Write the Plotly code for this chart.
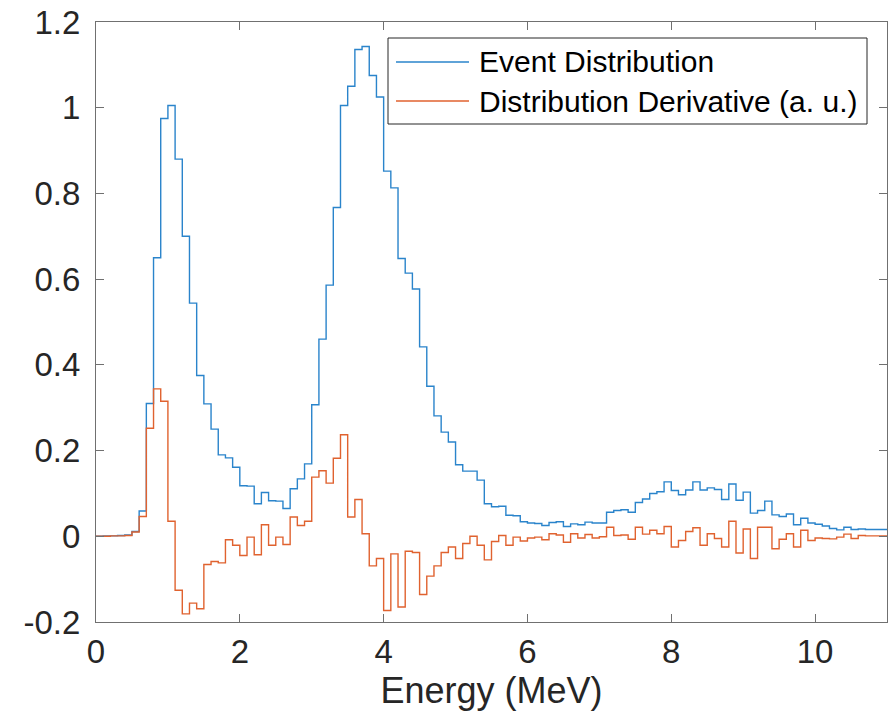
import plotly.graph_objects as go

bin_width = 0.1
n_bins = 110
energy_edges = [round(i * bin_width, 1) for i in range(n_bins + 1)]

event_distribution = [
    0.0, 0.001, 0.001, 0.002, 0.003, 0.011, 0.059, 0.31, 0.65, 0.975,
    1.005, 0.88, 0.70, 0.544, 0.375, 0.309, 0.25, 0.19, 0.183, 0.161,
    0.118, 0.117, 0.076, 0.102, 0.083, 0.082, 0.065, 0.111, 0.134, 0.169,
    0.307, 0.46, 0.586, 0.767, 1.005, 1.05, 1.136, 1.143, 1.075, 1.025,
    0.852, 0.813, 0.648, 0.614, 0.577, 0.442, 0.350, 0.281, 0.243, 0.220,
    0.167, 0.152, 0.152, 0.131, 0.076, 0.069, 0.070, 0.049, 0.048, 0.034,
    0.031, 0.030, 0.025, 0.032, 0.034, 0.023, 0.029, 0.027, 0.033, 0.031,
    0.031, 0.056, 0.060, 0.062, 0.056, 0.079, 0.087, 0.100, 0.104, 0.127,
    0.107, 0.097, 0.108, 0.127, 0.108, 0.113, 0.109, 0.086, 0.122, 0.084,
    0.103, 0.054, 0.060, 0.082, 0.050, 0.046, 0.052, 0.027, 0.042, 0.031,
    0.028, 0.024, 0.018, 0.015, 0.021, 0.016, 0.017, 0.016, 0.016, 0.016,
]

distribution_derivative = [
    0.0, 0.0, 0.001, 0.001, 0.002, 0.010, 0.046, 0.252, 0.344, 0.315,
    0.035, -0.126, -0.181, -0.156, -0.169, -0.066, -0.059, -0.062, -0.008, -0.021,
    -0.045, -0.002, -0.043, 0.027, -0.021, -0.002, -0.019, 0.045, 0.025, 0.035,
    0.138, 0.153, 0.124, 0.182, 0.237, 0.045, 0.086, 0.006, -0.069, -0.052,
    -0.173, -0.041, -0.165, -0.035, -0.038, -0.136, -0.093, -0.069, -0.038, -0.025,
    -0.052, -0.017, 0.0, -0.021, -0.055, -0.012, 0.002, -0.021, -0.002, -0.011,
    -0.004, -0.002, -0.008, 0.006, 0.003, -0.014, 0.006, -0.004, 0.004, -0.004,
    -0.001, 0.021, 0.002, 0.003, -0.007, 0.021, 0.005, 0.014, 0.006, 0.023,
    -0.025, -0.010, 0.011, 0.020, -0.021, 0.006, -0.005, -0.025, 0.035, -0.039,
    0.017, -0.052, 0.021, 0.021, -0.029, -0.007, 0.006, -0.025, 0.014, -0.010,
    -0.004, -0.005, -0.006, -0.002, 0.005, -0.005, 0.002, 0.001, 0.001, 0.001,
]

series_names = ["Event Distribution", "Distribution Derivative (a. u.)"]
x_ticks = [0, 2, 4, 6, 8, 10]
y_ticks = [-0.2, 0, 0.2, 0.4, 0.6, 0.8, 1.0, 1.2]
y_tick_labels = ["-0.2", "0", "0.2", "0.4", "0.6", "0.8", "1", "1.2"]

colors = ["#2a84cb", "#e0622f"]
axis_color = "#707070"
font_family = "Liberation Sans, Arial, sans-serif"

fig = go.Figure()
for name, vals, col in zip(series_names, [event_distribution, distribution_derivative], colors):
    fig.add_trace(go.Scatter(
        x=energy_edges, y=vals + [vals[-1]],
        mode="lines", line=dict(shape="hv", color=col, width=1.4),
        name=name, showlegend=False,
    ))

axis_common = dict(
    showline=True, linecolor=axis_color, linewidth=1, mirror="allticks",
    ticks="inside", ticklen=8, tickcolor=axis_color, tickwidth=1,
    showgrid=False, zeroline=False,
    tickfont=dict(family=font_family, size=33, color="#262626"),
)

fig.update_xaxes(
    range=[0, 11], tickvals=x_ticks, ticktext=[str(v) for v in x_ticks],
    title=dict(text="Energy (MeV)", font=dict(family=font_family, size=36, color="#262626"), standoff=0),
    ticklabelstandoff=0,
    **axis_common,
)
fig.update_yaxes(
    range=[-0.2, 1.2], tickvals=y_ticks, ticktext=y_tick_labels,
    ticklabelstandoff=8,
    **axis_common,
)

# Legend box drawn in paper coordinates (plot area: x 96..887 px, y 22..622 px)
L, R, T, B = 96.0, 887.0, 22.0, 622.0
def px(xp):
    return (xp - L) / (R - L)
def py(yp):
    return (B - yp) / (B - T)

shapes = [dict(type="rect", xref="paper", yref="paper",
               x0=px(388), x1=px(867), y0=py(124), y1=py(38),
               line=dict(color="#262626", width=1), fillcolor="white", layer="above")]
annotations = []
row_y = [62, 101]
for name, col, ry in zip(series_names, colors, row_y):
    shapes.append(dict(type="line", xref="paper", yref="paper",
                       x0=px(396), x1=px(469), y0=py(ry), y1=py(ry),
                       line=dict(color=col, width=1.4), layer="above"))
    annotations.append(dict(xref="paper", yref="paper", x=px(477), y=py(ry),
                            xanchor="left", yanchor="middle", showarrow=False,
                            text=name, font=dict(family=font_family, size=30, color="black")))

fig.update_layout(
    width=890, height=728,
    margin=dict(l=96, r=3, t=22, b=106),
    paper_bgcolor="white", plot_bgcolor="white",
    showlegend=False,
    shapes=shapes, annotations=annotations,
)

fig.write_html("out.html")
